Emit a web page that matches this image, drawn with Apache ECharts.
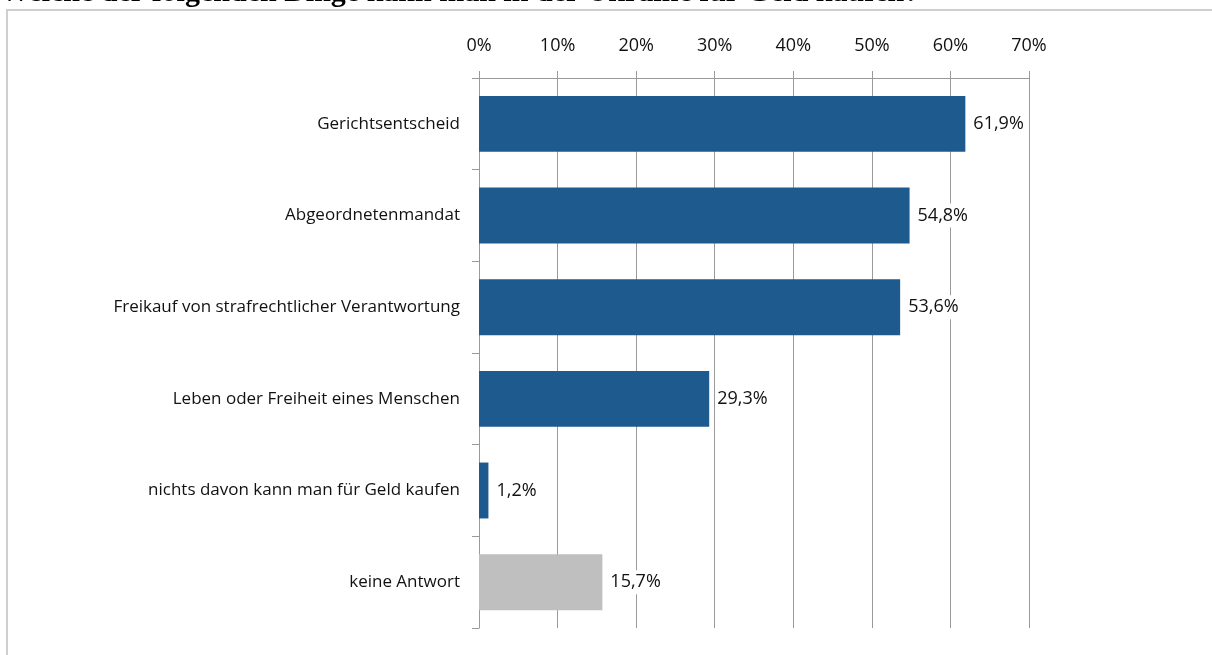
<!DOCTYPE html>
<html style="height: 100%">
   <head>
       <meta charset="utf-8">
   </head>
   <body style="height: 100%; margin: 0; background: #fff">
       <div id="container" style="width: 1212px; height: 655px"></div>
       <script type="text/javascript" src="https://cdn.jsdelivr.net/npm/echarts@6/dist/echarts.min.js"></script>
       <script type="text/javascript">
            var categories = [
                'Gerichtsentscheid',
                'Abgeordnetenmandat',
                'Freikauf von strafrechtlicher Verantwortung',
                'Leben oder Freiheit eines Menschen',
                'nichts davon kann man für Geld kaufen',
                'keine Antwort'
            ];
            var values = [61.9, 54.8, 53.6, 29.3, 1.2, 15.7];
            var titleText = 'Welche der folgenden Dinge kann man in der Ukraine für Geld kaufen?';

            var dom = document.getElementById("container");
            var myChart = echarts.init(dom);
            var labelFont = '"Open Sans", "Noto Sans", sans-serif';

            var option = {
                backgroundColor: '#fff',
                animation: false,
                graphic: [
                    {
                        type: 'rect',
                        shape: {x: 7, y: 10, width: 1400, height: 900},
                        style: {fill: 'none', stroke: '#cfcfcf', lineWidth: 2}
                    },
                    {
                        type: 'text',
                        left: 0,
                        top: -22,
                        style: {
                            text: titleText,
                            font: 'bold 30px "Liberation Serif", serif',
                            fill: '#000'
                        }
                    }
                ],
                grid: {
                    left: 479,
                    right: 183,
                    top: 78,
                    height: 550
                },
                xAxis: {
                    type: 'value',
                    position: 'top',
                    min: 0,
                    max: 70,
                    interval: 10,
                    axisLine: {show: true, lineStyle: {color: '#9a9a9a'}},
                    axisTick: {show: true, length: 7, lineStyle: {color: '#9a9a9a'}},
                    splitLine: {show: true, lineStyle: {color: '#9a9a9a'}},
                    axisLabel: {
                        formatter: '{value}%',
                        margin: 23,
                        fontFamily: labelFont,
                        fontSize: 18,
                        color: '#111'
                    }
                },
                yAxis: {
                    type: 'category',
                    data: categories,
                    inverse: true,
                    axisLine: {show: true, lineStyle: {color: '#9a9a9a'}},
                    axisTick: {show: true, length: 7, lineStyle: {color: '#9a9a9a'}},
                    axisLabel: {
                        margin: 19,
                        fontFamily: labelFont,
                        fontSize: 17,
                        color: '#111'
                    }
                },
                series: [{
                    type: 'bar',
                    data: values,
                    barWidth: '61%',
                    itemStyle: {
                        color: function (p) {
                            return categories[p.dataIndex] === 'keine Antwort' ? '#bfbfbf' : '#1f5a8e';
                        }
                    },
                    label: {
                        show: true,
                        position: 'right',
                        distance: 6,
                        fontFamily: labelFont,
                        fontSize: 18,
                        color: '#111',
                        backgroundColor: '#fff',
                        padding: [3, 2, 3, 2],
                        formatter: function (p) {
                            return p.value.toFixed(1).replace('.', ',') + '%';
                        }
                    }
                }]
            };

            myChart.setOption(option);
       </script>
   </body>
</html>
